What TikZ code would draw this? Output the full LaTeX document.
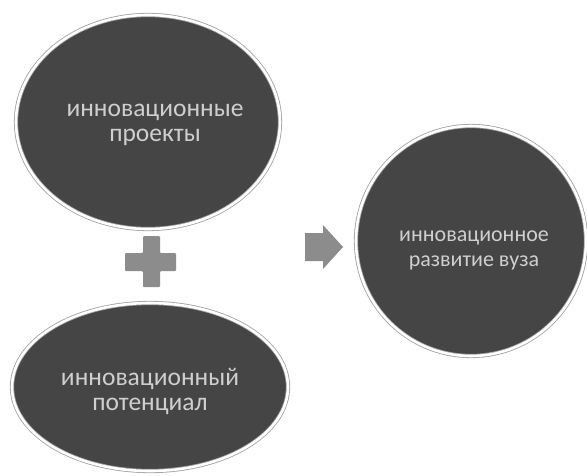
\documentclass[tikz,border=0pt]{standalone}
\usepackage{fontspec}
\setmainfont{Carlito}
\usetikzlibrary{shapes.geometric}
\definecolor{blobfill}{HTML}{454545}
\definecolor{blobtext}{HTML}{CFCFCF}
\definecolor{ringgray}{HTML}{A0A0A0}
\definecolor{signgray}{HTML}{8C8C8C}
\tikzset{
  blob/.style={ellipse, fill=blobfill, draw=ringgray, line width=0.8pt, double=white, double distance=2.6pt,
    inner sep=0pt},
  blobtxt/.style={text=blobtext, align=center, font=\fontsize{25.5}{25}\selectfont},
}
\begin{document}
\begin{tikzpicture}[x=1pt,y=-1pt]
\useasboundingbox (0,0) rectangle (587,475);
\fill[white] (0,0) rectangle (587,475);
\node[blob, minimum width=264pt, minimum height=214pt] (proj) at (148,122) {};
\node[blobtxt] (projtxt) at (155,125) {инновационные\\проекты};
\node[blob, minimum width=276pt, minimum height=168pt] (pot) at (150,387) {};
\node[blobtxt] (pottxt) at (150,391) {инновационный\\потенциал};
\node[blob, circle, minimum size=230pt] (dev) at (471,241) {};
\node[blobtxt, font=\fontsize{22}{25}\selectfont] (devtxt) at (474,250) {инновационное\\развитие вуза};
% plus sign
\fill[signgray, rounded corners=1pt] (143,236) -- (160,236) -- (160,253) -- (176,253) -- (176,271) -- (160,271) -- (160,287) -- (143,287) -- (143,271) -- (125,271) -- (125,253) -- (143,253) -- cycle;
\coordinate (plus) at (151,262);
% arrow
\fill[signgray] (305,233) -- (323,233) -- (323,225) -- (343,247) -- (323,269) -- (323,261) -- (305,261) -- cycle;
\coordinate (arr) at (324,247);
\end{tikzpicture}
\end{document}
